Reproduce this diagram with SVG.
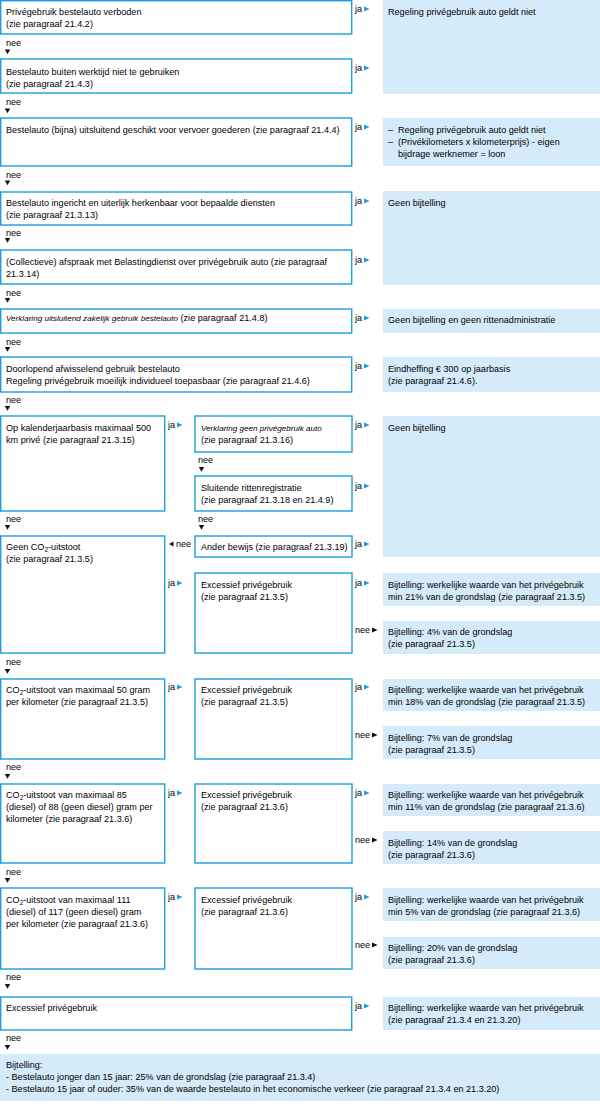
<svg xmlns="http://www.w3.org/2000/svg" width="600" height="1107" viewBox="0 0 600 1107">
<style>
.b{fill:#fff;stroke:#1a9ee0;stroke-width:1.4}
.r{fill:#d5ebfa}
text{font-family:"Liberation Sans",Arial,sans-serif;font-size:9.1px;fill:#000}
.i{font-style:italic;font-size:8.1px}
.bl{fill:#1a9ee0}
.k{fill:#111}
.s{font-size:6.5px}
</style>
<defs>
<path id="ar" d="M0,-2.6 L5.5,0 L0,2.6Z"/>
<path id="al" d="M0,-2.6 L-4.5,0 L0,2.6Z"/>
<path id="ad" d="M-2.7,0 L2.7,0 L0,4.8Z"/>
</defs>
<rect x="0" y="0" width="600" height="1107" fill="#fff"/>

<g id="results">
<rect class="r" x="383" y="0" width="217" height="94"/>
<text x="388" y="15">Regeling privégebruik auto geldt niet</text>
<rect class="r" x="383" y="118" width="217" height="48"/>
<text x="388" y="133">–</text><text x="398" y="133">Regeling privégebruik auto geldt niet</text>
<text x="388" y="145">–</text><text x="398" y="145">(Privékilometers x kilometerprijs) - eigen</text>
<text x="398" y="157">bijdrage werknemer = loon</text>
<rect class="r" x="383" y="191" width="217" height="94"/>
<text x="388" y="206">Geen bijtelling</text>
<rect class="r" x="383" y="309" width="217" height="24"/>
<text x="388" y="323">Geen bijtelling en geen rittenadministratie</text>
<rect class="r" x="383" y="357" width="217" height="35"/>
<text x="388" y="372">Eindheffing € 300 op jaarbasis</text>
<text x="388" y="384">(zie paragraaf 21.4.6).</text>
<rect class="r" x="383" y="416" width="217" height="141"/>
<text x="388" y="431">Geen bijtelling</text>
<rect class="r" x="383" y="573" width="217" height="33"/>
<text x="388" y="588">Bijtelling: werkelijke waarde van het privégebruik</text>
<text x="388" y="600">min 21% van de grondslag (zie paragraaf 21.3.5)</text>
<rect class="r" x="383" y="621" width="217" height="33"/>
<text x="388" y="635">Bijtelling: 4% van de grondslag</text>
<text x="388" y="647">(zie paragraaf 21.3.5)</text>
<rect class="r" x="383" y="679" width="217" height="32"/>
<text x="388" y="693">Bijtelling: werkelijke waarde van het privégebruik</text>
<text x="388" y="705">min 18% van de grondslag (zie paragraaf 21.3.5)</text>
<rect class="r" x="383" y="726" width="217" height="33"/>
<text x="388" y="741">Bijtelling: 7% van de grondslag</text>
<text x="388" y="753">(zie paragraaf 21.3.5)</text>
<rect class="r" x="383" y="784" width="217" height="32"/>
<text x="388" y="798">Bijtelling: werkelijke waarde van het privégebruik</text>
<text x="388" y="810">min 11% van de grondslag (zie paragraaf 21.3.6)</text>
<rect class="r" x="383" y="831" width="217" height="33"/>
<text x="388" y="846">Bijtelling: 14% van de grondslag</text>
<text x="388" y="858">(zie paragraaf 21.3.6)</text>
<rect class="r" x="383" y="888" width="217" height="33"/>
<text x="388" y="903">Bijtelling: werkelijke waarde van het privégebruik</text>
<text x="388" y="915">min 5% van de grondslag (zie paragraaf 21.3.6)</text>
<rect class="r" x="383" y="937" width="217" height="32"/>
<text x="388" y="951">Bijtelling: 20% van de grondslag</text>
<text x="388" y="963">(zie paragraaf 21.3.6)</text>
<rect class="r" x="383" y="997" width="217" height="33"/>
<text x="388" y="1011">Bijtelling: werkelijke waarde van het privégebruik</text>
<text x="388" y="1023">(zie paragraaf 21.3.4 en 21.3.20)</text>
</g>

<g id="n1"><rect class="b" x="0.7" y="0.7" width="351" height="33.3"/>
<text x="6" y="15">Privégebruik bestelauto verboden</text><text x="6" y="27">(zie paragraaf 21.4.2)</text></g>
<g id="n2"><rect class="b" x="0.7" y="59" width="351" height="34"/>
<text x="6" y="74.5">Bestelauto buiten werktijd niet te gebruiken</text><text x="6" y="86.5">(zie paragraaf 21.4.3)</text></g>
<g id="n3"><rect class="b" x="0.7" y="118" width="351" height="48"/>
<text x="6" y="133">Bestelauto (bijna) uitsluitend geschikt voor vervoer goederen (zie paragraaf 21.4.4)</text></g>
<g id="n4"><rect class="b" x="0.7" y="192" width="351" height="33"/>
<text x="6" y="206">Bestelauto ingericht en uiterlijk herkenbaar voor bepaalde diensten</text><text x="6" y="218">(zie paragraaf 21.3.13)</text></g>
<g id="n5"><rect class="b" x="0.7" y="250" width="351" height="34"/>
<text x="6" y="265">(Collectieve) afspraak met Belastingdienst over privégebruik auto (zie paragraaf</text><text x="6" y="277">21.3.14)</text></g>
<g id="n6"><rect class="b" x="0.7" y="309" width="351" height="24"/>
<text x="6" y="321"><tspan class="i">Verklaring uitsluitend zakelijk gebruik bestelauto</tspan> (zie paragraaf 21.4.8)</text></g>
<g id="n7"><rect class="b" x="0.7" y="357" width="351" height="35"/>
<text x="6" y="372">Doorlopend afwisselend gebruik bestelauto</text><text x="6" y="384">Regeling privégebruik moeilijk individueel toepasbaar (zie paragraaf 21.4.6)</text></g>
<g id="n8"><rect class="b" x="0.7" y="416" width="164" height="95"/>
<text x="6" y="431">Op kalenderjaarbasis maximaal 500</text><text x="6" y="443">km privé (zie paragraaf 21.3.15)</text></g>
<g id="n9"><rect class="b" x="195" y="416" width="157" height="36"/>
<text x="201" y="431" class="i">Verklaring geen privégebruik auto</text><text x="201" y="443">(zie paragraaf 21.3.16)</text></g>
<g id="n10"><rect class="b" x="195" y="476" width="157" height="35"/>
<text x="201" y="491">Sluitende rittenregistratie</text><text x="201" y="503">(zie paragraaf 21.3.18 en 21.4.9)</text></g>
<g id="n11"><rect class="b" x="0.7" y="536" width="164" height="117"/>
<text x="6" y="550">Geen CO<tspan class="s" dy="2">2</tspan><tspan dy="-2">-uitstoot</tspan></text><text x="6" y="562">(zie paragraaf 21.3.5)</text></g>
<g id="n12"><rect class="b" x="195" y="536" width="157" height="21"/>
<text x="201" y="550">Ander bewijs (zie paragraaf 21.3.19)</text></g>
<g id="n13"><rect class="b" x="195" y="573" width="157" height="80"/>
<text x="201" y="588">Excessief privégebruik</text><text x="201" y="600">(zie paragraaf 21.3.5)</text></g>
<g id="n14"><rect class="b" x="0.7" y="679" width="164" height="80"/>
<text x="6" y="693">CO<tspan class="s" dy="2">2</tspan><tspan dy="-2">-uitstoot van maximaal 50 gram</tspan></text><text x="6" y="705">per kilometer (zie paragraaf 21.3.5)</text></g>
<g id="n15"><rect class="b" x="195" y="679" width="157" height="80"/>
<text x="201" y="693">Excessief privégebruik</text><text x="201" y="705">(zie paragraaf 21.3.5)</text></g>
<g id="n16"><rect class="b" x="0.7" y="784" width="164" height="79"/>
<text x="6" y="798">CO<tspan class="s" dy="2">2</tspan><tspan dy="-2">-uitstoot van maximaal 85</tspan></text><text x="6" y="810">(diesel) of 88 (geen diesel) gram per</text><text x="6" y="822">kilometer (zie paragraaf 21.3.6)</text></g>
<g id="n17"><rect class="b" x="195" y="784" width="157" height="79"/>
<text x="201" y="798">Excessief privégebruik</text><text x="201" y="810">(zie paragraaf 21.3.6)</text></g>
<g id="n18"><rect class="b" x="0.7" y="888" width="164" height="81"/>
<text x="6" y="903">CO<tspan class="s" dy="2">2</tspan><tspan dy="-2">-uitstoot van maximaal 111</tspan></text><text x="6" y="915">(diesel) of 117 (geen diesel) gram</text><text x="6" y="927">per kilometer (zie paragraaf 21.3.6)</text></g>
<g id="n19"><rect class="b" x="195" y="888" width="157" height="81"/>
<text x="201" y="903">Excessief privégebruik</text><text x="201" y="915">(zie paragraaf 21.3.6)</text></g>
<g id="n20"><rect class="b" x="0.7" y="997" width="351" height="33"/>
<text x="6" y="1011">Excessief privégebruik</text></g>
<g id="n21"><rect class="r" x="0" y="1054" width="600" height="47"/>
<text x="6" y="1068">Bijtelling:</text>
<text x="6" y="1080">- Bestelauto jonger dan 15 jaar: 25% van de grondslag (zie paragraaf 21.3.4)</text>
<text x="6" y="1092">- Bestelauto 15 jaar of ouder: 35% van de waarde bestelauto in het economische verkeer (zie paragraaf 21.3.4 en 21.3.20)</text></g>

<g id="connectors">
<g>
<text x="355" y="12">ja</text><use href="#ar" x="364" y="9" class="bl"/>
<text x="355" y="71">ja</text><use href="#ar" x="364" y="68" class="bl"/>
<text x="355" y="130">ja</text><use href="#ar" x="364" y="127" class="bl"/>
<text x="355" y="204">ja</text><use href="#ar" x="364" y="201" class="bl"/>
<text x="355" y="263">ja</text><use href="#ar" x="364" y="260" class="bl"/>
<text x="355" y="321">ja</text><use href="#ar" x="364" y="318" class="bl"/>
<text x="355" y="369">ja</text><use href="#ar" x="364" y="366" class="bl"/>
<text x="355" y="428">ja</text><use href="#ar" x="364" y="425" class="bl"/>
<text x="355" y="489">ja</text><use href="#ar" x="364" y="486" class="bl"/>
<text x="355" y="547">ja</text><use href="#ar" x="364" y="544" class="bl"/>
<text x="355" y="586">ja</text><use href="#ar" x="364" y="583" class="bl"/>
<text x="355" y="690">ja</text><use href="#ar" x="364" y="687" class="bl"/>
<text x="355" y="796">ja</text><use href="#ar" x="364" y="793" class="bl"/>
<text x="355" y="900">ja</text><use href="#ar" x="364" y="897" class="bl"/>
<text x="355" y="1009">ja</text><use href="#ar" x="364" y="1006" class="bl"/>
</g>
<g>
<text x="168" y="428">ja</text><use href="#ar" x="177" y="425" class="bl"/>
<text x="168" y="586">ja</text><use href="#ar" x="177" y="583" class="bl"/>
<text x="168" y="690">ja</text><use href="#ar" x="177" y="687" class="bl"/>
<text x="168" y="796">ja</text><use href="#ar" x="177" y="793" class="bl"/>
<text x="168" y="900">ja</text><use href="#ar" x="177" y="897" class="bl"/>
</g>
<g>
<text x="355" y="633">nee</text><use href="#ar" x="372" y="630" class="k"/>
<text x="355" y="738">nee</text><use href="#ar" x="372" y="735" class="k"/>
<text x="355" y="843">nee</text><use href="#ar" x="372" y="840" class="k"/>
<text x="355" y="948">nee</text><use href="#ar" x="372" y="945" class="k"/>
</g>
<use href="#al" x="173.5" y="544" class="k"/><text x="176" y="547">nee</text>
<g>
<text x="6" y="46">nee</text><use href="#ad" x="7.5" y="49.5" class="k"/>
<text x="6" y="105">nee</text><use href="#ad" x="7.5" y="108.5" class="k"/>
<text x="6" y="178">nee</text><use href="#ad" x="7.5" y="180.5" class="k"/>
<text x="6" y="236">nee</text><use href="#ad" x="7.5" y="238" class="k"/>
<text x="6" y="296">nee</text><use href="#ad" x="7.5" y="298" class="k"/>
<text x="6" y="345">nee</text><use href="#ad" x="7.5" y="347" class="k"/>
<text x="6" y="403">nee</text><use href="#ad" x="7.5" y="406" class="k"/>
<text x="6" y="522">nee</text><use href="#ad" x="7.5" y="525" class="k"/>
<text x="198" y="463">nee</text><use href="#ad" x="201.5" y="467" class="k"/>
<text x="198" y="522">nee</text><use href="#ad" x="201.5" y="525" class="k"/>
<text x="6" y="665">nee</text><use href="#ad" x="7.5" y="669" class="k"/>
<text x="6" y="770">nee</text><use href="#ad" x="7.5" y="774" class="k"/>
<text x="6" y="875">nee</text><use href="#ad" x="7.5" y="878" class="k"/>
<text x="6" y="980">nee</text><use href="#ad" x="7.5" y="984" class="k"/>
<text x="6" y="1041">nee</text><use href="#ad" x="7.5" y="1045" class="k"/>
</g>
</g>
</svg>
